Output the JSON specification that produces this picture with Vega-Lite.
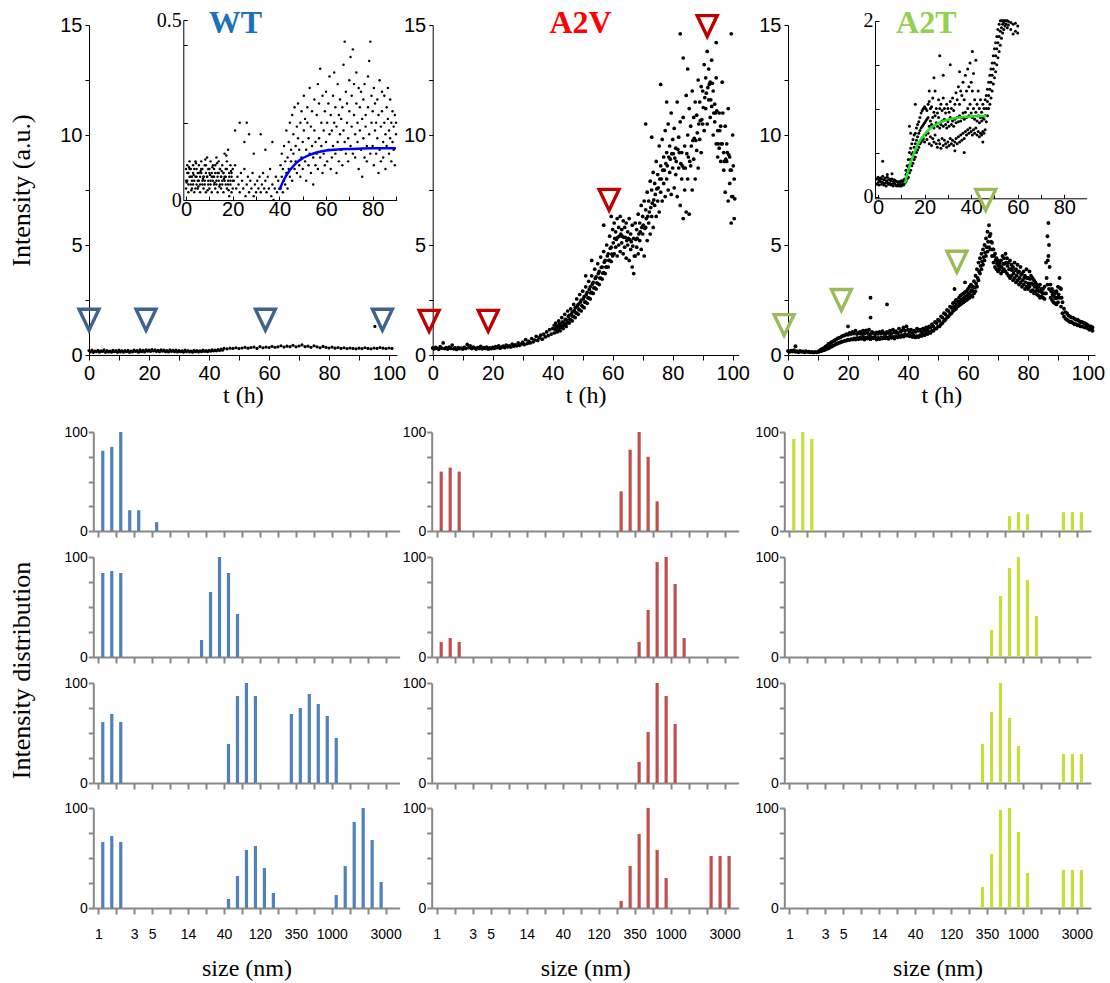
{
"$schema": "https://vega.github.io/schema/vega-lite/v6.json",
"width": 1110, "height": 983,
"autosize": {"type": "none"},
"padding": 0,
"background": "white",
"config": {
  "view": {"stroke": null},
  "axis": {"grid": false, "labelFlush": false, "labelOverlap": false, "labelBound": false, "domainColor": "black", "tickColor": "black", "labelColor": "black", "titleColor": "black", "titleFontWeight": "normal", "labelFont": "Liberation Sans", "titleFont": "Liberation Serif", "labelFontSize": 20, "titleFontSize": 24}
},
"datasets": {
"wt": [{"t":0,"y":0.2},{"t":1,"y":0.22},{"t":2,"y":0.18},{"t":3,"y":0.21},{"t":4,"y":0.19},{"t":5,"y":0.23},{"t":6,"y":0.2},{"t":7,"y":0.18},{"t":8,"y":0.21},{"t":9,"y":0.2},{"t":10,"y":0.22},{"t":11,"y":0.19},{"t":12,"y":0.2},{"t":13,"y":0.21},{"t":14,"y":0.18},{"t":15,"y":0.22},{"t":16,"y":0.2},{"t":17,"y":0.23},{"t":18,"y":0.21},{"t":19,"y":0.24},{"t":20,"y":0.22},{"t":21,"y":0.25},{"t":22,"y":0.23},{"t":23,"y":0.21},{"t":24,"y":0.24},{"t":25,"y":0.22},{"t":26,"y":0.2},{"t":27,"y":0.23},{"t":28,"y":0.21},{"t":29,"y":0.22},{"t":30,"y":0.2},{"t":31,"y":0.19},{"t":32,"y":0.22},{"t":33,"y":0.2},{"t":34,"y":0.18},{"t":35,"y":0.21},{"t":36,"y":0.2},{"t":37,"y":0.19},{"t":38,"y":0.22},{"t":39,"y":0.2},{"t":40,"y":0.21},{"t":41,"y":0.23},{"t":42,"y":0.22},{"t":43,"y":0.25},{"t":44,"y":0.27},{"t":45,"y":0.3},{"t":46,"y":0.28},{"t":47,"y":0.31},{"t":48,"y":0.3},{"t":49,"y":0.33},{"t":50,"y":0.29},{"t":51,"y":0.32},{"t":52,"y":0.35},{"t":53,"y":0.31},{"t":54,"y":0.34},{"t":55,"y":0.36},{"t":56,"y":0.3},{"t":57,"y":0.38},{"t":58,"y":0.33},{"t":59,"y":0.36},{"t":60,"y":0.34},{"t":61,"y":0.39},{"t":62,"y":0.35},{"t":63,"y":0.37},{"t":64,"y":0.42},{"t":65,"y":0.36},{"t":66,"y":0.4},{"t":67,"y":0.38},{"t":68,"y":0.44},{"t":69,"y":0.37},{"t":70,"y":0.41},{"t":71,"y":0.46},{"t":72,"y":0.38},{"t":73,"y":0.4},{"t":74,"y":0.35},{"t":75,"y":0.42},{"t":76,"y":0.37},{"t":77,"y":0.33},{"t":78,"y":0.39},{"t":79,"y":0.35},{"t":80,"y":0.32},{"t":81,"y":0.36},{"t":82,"y":0.31},{"t":83,"y":0.34},{"t":84,"y":0.3},{"t":85,"y":0.33},{"t":86,"y":0.29},{"t":87,"y":0.32},{"t":88,"y":0.3},{"t":89,"y":0.28},{"t":90,"y":0.31},{"t":91,"y":0.29},{"t":92,"y":0.33},{"t":93,"y":0.3},{"t":94,"y":0.28},{"t":95,"y":0.32},{"t":96,"y":0.3},{"t":97,"y":0.34},{"t":98,"y":0.31},{"t":99,"y":0.29},{"t":100,"y":0.32},{"t":101,"y":0.3},{"t":95.3,"y":1.3},
{"t":0.5,"y":0.14},{"t":1.5,"y":0.12},{"t":2.5,"y":0.15},{"t":3.5,"y":0.13},{"t":4.5,"y":0.16},{"t":5.5,"y":0.12},{"t":6.5,"y":0.14},{"t":7.5,"y":0.13},{"t":8.5,"y":0.15},{"t":9.5,"y":0.12},{"t":10.5,"y":0.14},{"t":11.5,"y":0.13},{"t":12.5,"y":0.15},{"t":13.5,"y":0.12},{"t":14.5,"y":0.14},{"t":15.5,"y":0.16},{"t":16.5,"y":0.13},{"t":17.5,"y":0.15},{"t":18.5,"y":0.14},{"t":19.5,"y":0.17},{"t":20.5,"y":0.16},{"t":21.5,"y":0.18},{"t":22.5,"y":0.16},{"t":23.5,"y":0.15},{"t":24.5,"y":0.17},{"t":25.5,"y":0.15},{"t":26.5,"y":0.14},{"t":27.5,"y":0.16},{"t":28.5,"y":0.15},{"t":29.5,"y":0.14},{"t":30.5,"y":0.15},{"t":31.5,"y":0.13},{"t":32.5,"y":0.15},{"t":33.5,"y":0.14},{"t":34.5,"y":0.13},{"t":35.5,"y":0.15},{"t":36.5,"y":0.14},{"t":37.5,"y":0.15},{"t":38.5,"y":0.16},{"t":39.5,"y":0.15},{"t":40.5,"y":0.17},{"t":41.5,"y":0.18},{"t":42.5,"y":0.19},{"t":43.5,"y":0.2},{"t":44.5,"y":0.22}],
"a2v": [{"t":0,"y":0.32},{"t":0.5,"y":0.28},{"t":1,"y":0.35},{"t":1.5,"y":0.3},{"t":2,"y":0.26},{"t":2.5,"y":0.38},{"t":3,"y":0.31},{"t":3.5,"y":0.55},{"t":4,"y":0.29},{"t":4.5,"y":0.33},{"t":5,"y":0.27},{"t":5.5,"y":0.36},{"t":6,"y":0.3},{"t":6.5,"y":0.45},{"t":7,"y":0.28},{"t":7.5,"y":0.32},{"t":8,"y":0.25},{"t":8.5,"y":0.34},{"t":9,"y":0.29},{"t":9.5,"y":0.31},{"t":10,"y":0.27},{"t":10.5,"y":0.35},{"t":11,"y":0.3},{"t":11.5,"y":0.48},{"t":12,"y":0.33},{"t":12.5,"y":0.42},{"t":13,"y":0.29},{"t":13.5,"y":0.36},{"t":14,"y":0.31},{"t":14.5,"y":0.27},{"t":15,"y":0.34},{"t":15.5,"y":0.3},{"t":16,"y":0.39},{"t":16.5,"y":0.28},{"t":17,"y":0.33},{"t":17.5,"y":0.3},{"t":18,"y":0.36},{"t":18.5,"y":0.27},{"t":19,"y":0.32},{"t":19.5,"y":0.29},{"t":20,"y":0.35},
{"t":20.5,"y":0.3},{"t":21,"y":0.38},{"t":21.5,"y":0.33},{"t":22,"y":0.42},{"t":22.5,"y":0.31},{"t":23,"y":0.36},{"t":23.5,"y":0.4},{"t":24,"y":0.33},{"t":24.5,"y":0.45},{"t":25,"y":0.37},{"t":25.5,"y":0.42},{"t":26,"y":0.36},{"t":26.5,"y":0.5},{"t":27,"y":0.4},{"t":27.5,"y":0.46},{"t":28,"y":0.42},{"t":28.5,"y":0.55},{"t":29,"y":0.44},{"t":29.5,"y":0.5},{"t":30,"y":0.58},{"t":30.5,"y":0.47},{"t":31,"y":0.7},{"t":31.5,"y":0.52},{"t":32,"y":0.62},{"t":32.5,"y":0.55},{"t":33,"y":0.75},{"t":33.5,"y":0.6},{"t":34,"y":0.68},{"t":34.5,"y":0.85},{"t":35,"y":0.66},{"t":35.5,"y":0.78},{"t":36,"y":0.9},{"t":36.5,"y":0.72},{"t":37,"y":0.95},{"t":37.5,"y":0.82},{"t":38,"y":1.05},{"t":38.5,"y":0.88},{"t":39,"y":1.15},{"t":39.5,"y":0.95},{"t":40,"y":1.2},
{"t":40.5,"y":1.0},{"t":40.5,"y":1.35},{"t":41,"y":1.15},{"t":41,"y":1.45},{"t":41.5,"y":1.05},{"t":41.5,"y":1.3},{"t":42,"y":1.25},{"t":42,"y":1.55},{"t":42.5,"y":1.1},{"t":42.5,"y":1.4},{"t":43,"y":1.3},{"t":43,"y":1.7},{"t":43.5,"y":1.2},{"t":43.5,"y":1.5},{"t":44,"y":1.4},{"t":44,"y":1.85},{"t":44.5,"y":1.3},{"t":44.5,"y":1.6},{"t":45,"y":1.5},{"t":45,"y":2.0},{"t":45.5,"y":1.45},{"t":45.5,"y":1.8},{"t":46,"y":1.6},{"t":46,"y":2.1},{"t":46.5,"y":1.55},{"t":46.5,"y":1.95},{"t":47,"y":1.75},{"t":47,"y":2.3},{"t":47.5,"y":1.7},{"t":47.5,"y":2.15},{"t":48,"y":1.9},{"t":48,"y":2.55},{"t":48.5,"y":1.85},{"t":48.5,"y":2.3},{"t":49,"y":2.05},{"t":49,"y":2.75},{"t":49.5,"y":2.0},{"t":49.5,"y":2.5},{"t":50,"y":2.2},{"t":50,"y":2.9},{"t":50.5,"y":2.15},{"t":50.5,"y":2.65},{"t":51,"y":2.4},{"t":51,"y":3.1},{"t":51.5,"y":2.35},{"t":51.5,"y":2.85},{"t":52,"y":2.6},{"t":52,"y":3.35},{"t":52.5,"y":2.55},{"t":52.5,"y":3.1},{"t":53,"y":2.85},{"t":53,"y":3.6},{"t":53.5,"y":2.8},{"t":53.5,"y":3.3},{"t":54,"y":3.05},{"t":54,"y":3.9},{"t":54.5,"y":3.0},{"t":54.5,"y":3.55},{"t":55,"y":3.25},{"t":55,"y":4.15},{"t":55.5,"y":3.2},{"t":55.5,"y":3.8},{"t":56,"y":3.5},{"t":56,"y":4.45},{"t":56.5,"y":3.45},{"t":56.5,"y":4.0},{"t":57,"y":3.75},{"t":57,"y":4.7},{"t":57.5,"y":3.7},{"t":57.5,"y":4.3},{"t":58,"y":4.0},{"t":58,"y":5.0},{"t":58.5,"y":4.0},{"t":58.5,"y":4.6},{"t":59,"y":4.3},{"t":59,"y":5.4},{"t":59.5,"y":4.25},{"t":59.5,"y":4.9},{"t":60,"y":4.5},{"t":60,"y":5.7},{"t":57,"y":5.9},{"t":59.5,"y":6.3},{"t":53,"y":4.3},{"t":51,"y":3.6},
{"t":60.5,"y":4.6},{"t":60.5,"y":6.0},{"t":61,"y":4.9},{"t":61,"y":5.6},{"t":61.5,"y":4.5},{"t":61.5,"y":6.2},{"t":62,"y":5.0},{"t":62,"y":5.8},{"t":62.5,"y":4.7},{"t":62.5,"y":6.3},{"t":63,"y":5.1},{"t":63,"y":5.7},{"t":63.5,"y":4.6},{"t":63.5,"y":6.1},{"t":64,"y":4.9},{"t":64,"y":5.8},{"t":64.5,"y":4.4},{"t":64.5,"y":6.0},{"t":65,"y":5.0},{"t":65,"y":5.6},{"t":65.5,"y":4.3},{"t":65.5,"y":6.2},{"t":66,"y":4.8},{"t":66,"y":5.5},{"t":66.5,"y":4.0},{"t":66.5,"y":5.9},{"t":67,"y":3.7},{"t":67,"y":5.3},{"t":67.5,"y":4.5},{"t":67.5,"y":6.0},{"t":68,"y":4.9},{"t":68,"y":5.7},{"t":68.5,"y":4.6},{"t":68.5,"y":6.4},{"t":69,"y":5.2},{"t":69,"y":6.0},{"t":69.5,"y":4.8},{"t":69.5,"y":6.8},{"t":70,"y":5.5},{"t":70,"y":6.3},{"t":70.5,"y":4.5},{"t":70.5,"y":7.0},{"t":71,"y":5.8},{"t":71,"y":6.6},{"t":71.5,"y":5.2},{"t":71.5,"y":7.4},{"t":72,"y":6.0},{"t":72,"y":7.0},{"t":72.5,"y":5.5},{"t":72.5,"y":7.9},{"t":73,"y":6.3},{"t":73,"y":7.5},{"t":73.5,"y":5.8},{"t":73.5,"y":8.3},{"t":74,"y":6.8},{"t":74,"y":7.8},{"t":74.5,"y":6.3},{"t":74.5,"y":8.8},{"t":75,"y":7.0},{"t":75,"y":8.2},{"t":75.5,"y":6.5},{"t":75.5,"y":9.5},{"t":76,"y":7.4},{"t":76,"y":8.6},{"t":76.5,"y":7.0},{"t":76.5,"y":9.8},{"t":77,"y":7.8},{"t":77,"y":9.0},{"t":77.5,"y":7.2},{"t":77.5,"y":10.2},{"t":78,"y":8.0},{"t":78,"y":9.2},{"t":78.5,"y":7.5},{"t":78.5,"y":10.5},{"t":79,"y":8.3},{"t":79,"y":9.5},{"t":79.5,"y":7.3},{"t":79.5,"y":11.0},{"t":80,"y":8.5},{"t":80,"y":9.8},{"t":80.5,"y":7.6},{"t":80.5,"y":10.3},{"t":81,"y":8.2},{"t":81,"y":9.4},{"t":81.5,"y":7.2},{"t":81.5,"y":11.5},{"t":82,"y":8.5},{"t":82,"y":9.9},{"t":82.5,"y":6.8},{"t":82.5,"y":10.6},{"t":83,"y":8.0},{"t":83,"y":9.2},{"t":83.5,"y":6.2},{"t":83.5,"y":10.8},{"t":84,"y":7.5},{"t":84,"y":9.5},{"t":84.5,"y":6.5},{"t":84.5,"y":11.8},{"t":85,"y":8.0},{"t":85,"y":10.0},{"t":85.5,"y":6.4},{"t":85.5,"y":11.2},{"t":86,"y":8.6},{"t":86,"y":10.4},{"t":86.5,"y":7.5},{"t":86.5,"y":12.0},{"t":87,"y":8.9},{"t":87,"y":10.8},{"t":87.5,"y":8.0},{"t":87.5,"y":11.5},{"t":88,"y":9.3},{"t":88,"y":10.9},{"t":88.5,"y":8.5},{"t":88.5,"y":12.5},{"t":89,"y":9.8},{"t":89,"y":11.5},{"t":89.5,"y":9.2},{"t":89.5,"y":12.2},{"t":90,"y":10.5},{"t":90,"y":12.0},{"t":90.5,"y":10.2},{"t":90.5,"y":13.2},{"t":91,"y":11.2},{"t":91,"y":12.6},{"t":91.5,"y":10.5},{"t":91.5,"y":13.8},{"t":92,"y":11.6},{"t":92,"y":13.0},{"t":92.5,"y":10.8},{"t":92.5,"y":12.4},{"t":93,"y":11.3},{"t":93,"y":13.4},{"t":93.5,"y":10.0},{"t":93.5,"y":12.0},{"t":94,"y":10.6},{"t":94,"y":11.4},{"t":94.5,"y":9.6},{"t":94.5,"y":12.6},{"t":95,"y":10.2},{"t":95,"y":9.0},{"t":95.5,"y":9.4},{"t":95.5,"y":11.0},{"t":96,"y":8.8},{"t":96,"y":10.4},{"t":96.5,"y":9.6},{"t":96.5,"y":12.4},{"t":97,"y":8.4},{"t":97,"y":9.2},{"t":97.5,"y":7.4},{"t":97.5,"y":10.4},{"t":98,"y":8.8},{"t":98,"y":9.6},{"t":98.5,"y":7.0},{"t":98.5,"y":11.2},{"t":99,"y":7.8},{"t":99,"y":9.0},{"t":99.5,"y":6.0},{"t":99.5,"y":8.4},{"t":100,"y":7.2},{"t":100,"y":10.0},{"t":100.5,"y":6.2},{"t":100.5,"y":8.0},
{"t":82.5,"y":14.6},{"t":83.5,"y":13.5},{"t":85,"y":13.0},{"t":94.5,"y":14.2},{"t":99.5,"y":14.6},{"t":76,"y":12.3},{"t":78,"y":11.5},{"t":73,"y":9.9},{"t":71,"y":10.5},
{"t":40.7,"y":1.18},{"t":41.2,"y":1.3},{"t":41.7,"y":1.17},{"t":42.2,"y":1.4},{"t":42.7,"y":1.25},{"t":43.2,"y":1.5},{"t":43.7,"y":1.35},{"t":44.2,"y":1.62},{"t":44.7,"y":1.45},{"t":45.2,"y":1.75},{"t":45.7,"y":1.62},{"t":46.2,"y":1.85},{"t":46.7,"y":1.75},{"t":47.2,"y":2.02},{"t":47.7,"y":1.92},{"t":48.2,"y":2.22},{"t":48.7,"y":2.08},{"t":49.2,"y":2.4},{"t":49.7,"y":2.25},{"t":50.2,"y":2.55},{"t":50.7,"y":2.4},{"t":51.2,"y":2.75},{"t":51.7,"y":2.6},{"t":52.2,"y":2.98},{"t":52.7,"y":2.82},{"t":53.2,"y":3.22},{"t":53.7,"y":3.05},{"t":54.2,"y":3.48},{"t":54.7,"y":3.28},{"t":55.2,"y":3.7},{"t":55.7,"y":3.5},{"t":56.2,"y":3.98},{"t":56.7,"y":3.72},{"t":57.2,"y":4.22},{"t":57.7,"y":4.0},{"t":58.2,"y":4.5},{"t":58.7,"y":4.3},{"t":59.2,"y":4.85},{"t":59.7,"y":4.58},{"t":60.2,"y":5.1},
{"t":60.7,"y":5.3},{"t":61.2,"y":5.25},{"t":61.7,"y":5.35},{"t":62.2,"y":5.4},{"t":62.7,"y":5.5},{"t":63.2,"y":5.4},{"t":63.7,"y":5.35},{"t":64.2,"y":5.35},{"t":64.7,"y":5.2},{"t":65.2,"y":5.3},{"t":65.7,"y":5.25},{"t":66.2,"y":5.15},{"t":66.7,"y":4.95},{"t":67.2,"y":4.5},{"t":67.7,"y":5.25},{"t":68.2,"y":5.3},{"t":68.7,"y":5.5},{"t":69.2,"y":5.6},{"t":69.7,"y":5.8},{"t":70.2,"y":5.9},{"t":70.7,"y":5.75},{"t":71.2,"y":6.2},{"t":71.7,"y":6.3},{"t":72.2,"y":6.5},{"t":72.7,"y":6.7},{"t":73.2,"y":6.9},{"t":73.7,"y":7.05},{"t":74.2,"y":7.3},{"t":74.7,"y":7.55},{"t":75.2,"y":7.6},{"t":75.7,"y":8.0},{"t":76.2,"y":8.0},{"t":76.7,"y":8.4},{"t":77.2,"y":8.4},{"t":77.7,"y":8.7},{"t":78.2,"y":8.6},{"t":78.7,"y":9.0},{"t":79.2,"y":8.9},{"t":79.7,"y":9.15},{"t":80.2,"y":9.15},{"t":80.7,"y":8.95},{"t":81.2,"y":8.8},{"t":81.7,"y":9.35},{"t":82.2,"y":9.2},{"t":82.7,"y":8.7},{"t":83.2,"y":8.6},{"t":83.7,"y":8.5},{"t":84.2,"y":8.5},{"t":84.7,"y":9.15},{"t":85.2,"y":9.0},{"t":85.7,"y":8.8},{"t":86.2,"y":9.5},{"t":86.7,"y":9.75},{"t":87.2,"y":9.85},{"t":87.7,"y":9.75},{"t":88.2,"y":10.1},{"t":88.7,"y":10.5},{"t":89.2,"y":10.65},{"t":89.7,"y":10.7},{"t":90.2,"y":11.25},{"t":90.7,"y":11.7},{"t":91.2,"y":11.9},{"t":91.7,"y":12.15},{"t":92.2,"y":12.3},{"t":92.7,"y":11.6},{"t":93.2,"y":12.35},{"t":93.7,"y":11.0},{"t":94.2,"y":11.0},{"t":94.7,"y":11.1},{"t":95.2,"y":9.6},{"t":95.7,"y":10.2},{"t":96.2,"y":9.6},{"t":96.7,"y":11.0},{"t":97.2,"y":8.8},{"t":97.7,"y":8.9},{"t":98.2,"y":9.2},{"t":98.7,"y":9.1},{"t":99.2,"y":8.4},{"t":99.7,"y":7.2},{"t":100.2,"y":8.6},{"t":100.7,"y":7.1}],
"a2t": [{"t":0,"y":0.18},{"t":0.5,"y":0.14},{"t":1,"y":0.2},{"t":1.5,"y":0.16},{"t":2,"y":0.22},{"t":2.5,"y":0.15},{"t":3,"y":0.17},{"t":3.5,"y":0.13},{"t":4,"y":0.19},{"t":4.5,"y":0.15},{"t":5,"y":0.16},{"t":5.5,"y":0.12},{"t":6,"y":0.17},{"t":6.5,"y":0.14},{"t":7,"y":0.15},{"t":7.5,"y":0.12},{"t":8,"y":0.14},{"t":8.5,"y":0.11},{"t":9,"y":0.14},{"t":9.5,"y":0.12},{"t":10,"y":0.15},{"t":2.5,"y":0.4},
{"t":10.5,"y":0.16},{"t":10.5,"y":0.2},{"t":11,"y":0.18},{"t":11,"y":0.25},{"t":11.5,"y":0.2},{"t":11.5,"y":0.28},{"t":12,"y":0.22},{"t":12,"y":0.32},{"t":12.5,"y":0.25},{"t":12.5,"y":0.38},{"t":13,"y":0.28},{"t":13,"y":0.42},{"t":13.5,"y":0.3},{"t":13.5,"y":0.5},{"t":14,"y":0.35},{"t":14,"y":0.52},{"t":14.5,"y":0.38},{"t":14.5,"y":0.58},{"t":15,"y":0.42},{"t":15,"y":0.62},{"t":15.5,"y":0.45},{"t":15.5,"y":0.66},{"t":16,"y":0.5},{"t":16,"y":0.7},{"t":16.5,"y":0.52},{"t":16.5,"y":0.75},{"t":17,"y":0.55},{"t":17,"y":0.78},{"t":17.5,"y":0.58},{"t":17.5,"y":0.8},{"t":18,"y":0.6},{"t":18,"y":0.85},{"t":18.5,"y":0.62},{"t":18.5,"y":0.88},{"t":19,"y":0.65},{"t":19,"y":0.9},{"t":19.5,"y":0.66},{"t":19.5,"y":0.95},{"t":20,"y":0.7},{"t":20,"y":0.92},{"t":20.5,"y":0.68},{"t":20.5,"y":1.0},{"t":21,"y":0.72},{"t":21,"y":0.95},{"t":21.5,"y":0.7},{"t":21.5,"y":1.05},{"t":22,"y":0.75},{"t":22,"y":0.98},{"t":22.5,"y":0.7},{"t":22.5,"y":1.1},{"t":23,"y":0.78},{"t":23,"y":0.95},{"t":23.5,"y":0.72},{"t":23.5,"y":1.0},{"t":24,"y":0.8},{"t":24,"y":1.05},{"t":24.5,"y":0.74},{"t":24.5,"y":0.96},{"t":25,"y":0.82},{"t":25,"y":1.1},{"t":25.5,"y":0.7},{"t":25.5,"y":0.98},{"t":26,"y":0.8},{"t":26,"y":1.12},{"t":26.5,"y":0.75},{"t":26.5,"y":1.0},{"t":27,"y":0.85},{"t":27,"y":1.15},{"t":27.5,"y":0.72},{"t":27.5,"y":0.95},{"t":28,"y":0.8},{"t":28,"y":1.05},{"t":28.5,"y":0.76},{"t":28.5,"y":1.0},{"t":29,"y":0.82},{"t":29,"y":0.95},{"t":29.5,"y":0.7},{"t":29.5,"y":1.02},{"t":30,"y":0.78},{"t":30,"y":0.96},{"t":30.5,"y":0.72},{"t":30.5,"y":1.05},{"t":31,"y":0.8},{"t":31,"y":0.98},{"t":31.5,"y":0.75},{"t":31.5,"y":1.08},{"t":32,"y":0.82},{"t":32,"y":1.0},{"t":32.5,"y":0.76},{"t":32.5,"y":0.95},{"t":33,"y":0.8},{"t":33,"y":1.05},{"t":33.5,"y":0.74},{"t":33.5,"y":1.0},{"t":34,"y":0.85},{"t":34,"y":1.1},{"t":34.5,"y":0.78},{"t":34.5,"y":0.98},{"t":35,"y":0.82},{"t":35,"y":1.15},{"t":35.5,"y":0.75},{"t":35.5,"y":1.02},{"t":36,"y":0.86},{"t":36,"y":1.08},{"t":36.5,"y":0.8},{"t":36.5,"y":1.0},{"t":37,"y":0.88},{"t":37,"y":1.2},{"t":37.5,"y":0.82},{"t":37.5,"y":1.05},{"t":38,"y":0.9},{"t":38,"y":1.12},{"t":38.5,"y":0.84},{"t":38.5,"y":1.25},{"t":39,"y":0.95},{"t":39,"y":1.1},{"t":39.5,"y":0.88},{"t":39.5,"y":1.3},{"t":40,"y":0.92},{"t":40,"y":1.15},{"t":40.5,"y":0.85},{"t":40.5,"y":1.05},{"t":41,"y":0.9},{"t":41,"y":1.15},{"t":41.5,"y":0.82},{"t":41.5,"y":1.0},{"t":42,"y":0.88},{"t":42,"y":1.1},{"t":42.5,"y":0.8},{"t":42.5,"y":1.05},{"t":43,"y":0.86},{"t":43,"y":1.2},{"t":43.5,"y":0.82},{"t":43.5,"y":1.1},{"t":44,"y":0.9},{"t":44,"y":1.15},{"t":44.5,"y":0.86},{"t":44.5,"y":1.05},{"t":45,"y":0.95},{"t":45,"y":1.2},{"t":45.5,"y":0.9},{"t":45.5,"y":1.1},{"t":46,"y":1.0},{"t":46,"y":1.25},{"t":46.5,"y":0.95},{"t":46.5,"y":1.15},{"t":47,"y":1.05},{"t":47,"y":1.3},{"t":47.5,"y":1.0},{"t":47.5,"y":1.25},{"t":48,"y":1.1},{"t":48,"y":1.4},{"t":48.5,"y":1.1},{"t":48.5,"y":1.3},{"t":49,"y":1.2},{"t":49,"y":1.5},{"t":49.5,"y":1.2},{"t":49.5,"y":1.45},{"t":50,"y":1.3},{"t":50,"y":1.6},{"t":50.5,"y":1.3},{"t":50.5,"y":1.55},{"t":51,"y":1.4},{"t":51,"y":1.75},{"t":51.5,"y":1.45},{"t":51.5,"y":1.7},{"t":52,"y":1.55},{"t":52,"y":1.9},{"t":52.5,"y":1.6},{"t":52.5,"y":1.85},{"t":53,"y":1.7},{"t":53,"y":2.05},{"t":53.5,"y":1.75},{"t":53.5,"y":2.0},{"t":54,"y":1.85},{"t":54,"y":2.2},{"t":54.5,"y":1.9},{"t":54.5,"y":2.15},{"t":55,"y":2.0},{"t":55,"y":2.35},{"t":55.5,"y":2.05},{"t":55.5,"y":2.4},{"t":56,"y":2.1},{"t":56,"y":2.5},{"t":56.5,"y":2.2},{"t":56.5,"y":2.45},{"t":57,"y":2.25},{"t":57,"y":2.6},{"t":57.5,"y":2.3},{"t":57.5,"y":2.7},{"t":58,"y":2.35},{"t":58,"y":2.75},{"t":58.5,"y":2.4},{"t":58.5,"y":2.8},{"t":59,"y":2.45},{"t":59,"y":2.85},{"t":59.5,"y":2.5},{"t":59.5,"y":2.9},{"t":60,"y":2.55},{"t":60,"y":3.0},{"t":60.5,"y":2.6},{"t":60.5,"y":3.1},{"t":61,"y":2.7},{"t":61,"y":3.2},{"t":61.5,"y":2.65},{"t":61.5,"y":3.1},{"t":62,"y":2.8},{"t":62,"y":3.35},{"t":62.5,"y":2.9},{"t":62.5,"y":3.6},{"t":63,"y":3.1},{"t":63,"y":3.9},{"t":63.5,"y":3.4},{"t":63.5,"y":4.2},{"t":64,"y":3.7},{"t":64,"y":4.4},{"t":64.5,"y":3.9},{"t":64.5,"y":4.6},{"t":65,"y":4.1},{"t":65,"y":4.8},{"t":65.5,"y":4.3},{"t":65.5,"y":5.0},{"t":66,"y":4.5},{"t":66,"y":5.3},{"t":66.5,"y":4.7},{"t":66.5,"y":5.6},{"t":67,"y":4.9},{"t":67,"y":5.9},{"t":67.5,"y":4.8},{"t":67.5,"y":5.5},{"t":68,"y":4.5},{"t":68,"y":5.1},{"t":68.5,"y":4.2},{"t":68.5,"y":4.8},{"t":69,"y":4.0},{"t":69,"y":4.6},{"t":69.5,"y":3.9},{"t":69.5,"y":4.4},{"t":70,"y":3.8},{"t":70,"y":4.3},{"t":70.5,"y":3.9},{"t":70.5,"y":4.2},{"t":71,"y":3.7},{"t":71,"y":4.3},{"t":71.5,"y":3.8},{"t":71.5,"y":4.5},{"t":72,"y":3.9},{"t":72,"y":4.4},{"t":72.5,"y":3.8},{"t":72.5,"y":4.6},{"t":73,"y":3.7},{"t":73,"y":4.4},{"t":73.5,"y":3.6},{"t":73.5,"y":4.2},{"t":74,"y":3.5},{"t":74,"y":4.3},{"t":74.5,"y":3.6},{"t":74.5,"y":4.1},{"t":75,"y":3.4},{"t":75,"y":4.0},{"t":75.5,"y":3.5},{"t":75.5,"y":4.2},{"t":76,"y":3.3},{"t":76,"y":3.9},{"t":76.5,"y":3.4},{"t":76.5,"y":4.1},{"t":77,"y":3.2},{"t":77,"y":3.8},{"t":77.5,"y":3.3},{"t":77.5,"y":4.0},{"t":78,"y":3.1},{"t":78,"y":3.7},{"t":78.5,"y":3.2},{"t":78.5,"y":3.8},{"t":79,"y":3.0},{"t":79,"y":3.6},{"t":79.5,"y":3.1},{"t":79.5,"y":3.9},{"t":80,"y":3.0},{"t":80,"y":3.5},{"t":80.5,"y":3.1},{"t":80.5,"y":3.8},{"t":81,"y":2.9},{"t":81,"y":3.6},{"t":81.5,"y":2.95},{"t":81.5,"y":3.5},{"t":82,"y":2.8},{"t":82,"y":3.4},{"t":82.5,"y":2.9},{"t":82.5,"y":3.3},{"t":83,"y":2.75},{"t":83,"y":3.2},{"t":83.5,"y":2.7},{"t":83.5,"y":3.1},{"t":84,"y":2.6},{"t":84,"y":3.2},{"t":84.5,"y":2.65},{"t":84.5,"y":3.0},{"t":85,"y":2.6},{"t":85,"y":3.0},{"t":85.5,"y":2.55},{"t":85.5,"y":3.1},{"t":86,"y":2.8},{"t":86,"y":4.2},{"t":86.5,"y":3.2},{"t":86.5,"y":5.4},{"t":86.8,"y":4.5},{"t":86.8,"y":6.0},{"t":87,"y":3.0},{"t":87,"y":5.0},{"t":87.5,"y":2.6},{"t":87.5,"y":3.2},{"t":88,"y":2.5},{"t":88,"y":3.0},{"t":88.5,"y":2.4},{"t":88.5,"y":2.9},{"t":89,"y":2.35},{"t":89,"y":2.8},{"t":89.5,"y":2.3},{"t":89.5,"y":2.9},{"t":90,"y":2.4},{"t":90,"y":3.1},{"t":90.5,"y":2.6},{"t":90.5,"y":3.5},{"t":91,"y":2.2},{"t":91,"y":3.0},{"t":91.5,"y":1.9},{"t":91.5,"y":2.4},{"t":92,"y":1.75},{"t":92,"y":2.1},{"t":92.5,"y":1.65},{"t":92.5,"y":1.95},{"t":93,"y":1.6},{"t":93,"y":1.9},{"t":93.5,"y":1.55},{"t":93.5,"y":1.8},{"t":94,"y":1.5},{"t":94,"y":1.75},{"t":94.5,"y":1.5},{"t":94.5,"y":1.7},{"t":95,"y":1.45},{"t":95,"y":1.7},{"t":95.5,"y":1.4},{"t":95.5,"y":1.65},{"t":96,"y":1.4},{"t":96,"y":1.6},{"t":96.5,"y":1.35},{"t":96.5,"y":1.6},{"t":97,"y":1.35},{"t":97,"y":1.55},{"t":97.5,"y":1.3},{"t":97.5,"y":1.5},{"t":98,"y":1.3},{"t":98,"y":1.5},{"t":98.5,"y":1.28},{"t":98.5,"y":1.45},{"t":99,"y":1.25},{"t":99,"y":1.45},{"t":99.5,"y":1.25},{"t":99.5,"y":1.4},{"t":100,"y":1.2},{"t":100,"y":1.35},{"t":100.5,"y":1.15},{"t":100.5,"y":1.3},{"t":101,"y":1.2},{"t":101,"y":1.3},{"t":101.5,"y":1.1},{"t":101.5,"y":1.25},
{"t":20,"y":1.3},{"t":27.5,"y":2.6},{"t":33,"y":2.3},{"t":27.5,"y":1.7},{"t":55.5,"y":3.0},{"t":59,"y":3.3},
{"t":55.2,"y":2.18},{"t":55.7,"y":2.2},{"t":56.2,"y":2.3},{"t":56.7,"y":2.33},{"t":57.2,"y":2.42},{"t":57.7,"y":2.5},{"t":58.2,"y":2.55},{"t":58.7,"y":2.6},{"t":59.2,"y":2.65},{"t":59.7,"y":2.7},{"t":60.2,"y":2.78},{"t":60.7,"y":2.85},{"t":61.2,"y":2.95},{"t":61.7,"y":2.9},{"t":62.2,"y":3.08},{"t":62.7,"y":3.25},{"t":63.2,"y":3.5},{"t":63.7,"y":3.8},{"t":64.2,"y":4.05},{"t":64.7,"y":4.25},{"t":65.2,"y":4.45},{"t":65.7,"y":4.65},{"t":66.2,"y":4.9},{"t":66.7,"y":5.15},{"t":67.2,"y":5.4},{"t":67.7,"y":5.15},{"t":68.2,"y":4.8},{"t":68.7,"y":4.5},{"t":69.2,"y":4.3},{"t":69.7,"y":4.15},{"t":70.2,"y":4.05},{"t":70.7,"y":4.05},{"t":71.2,"y":4.0},{"t":71.7,"y":4.15},{"t":72.2,"y":4.15},{"t":72.7,"y":4.2},{"t":73.2,"y":4.05},{"t":73.7,"y":3.9},{"t":74.2,"y":3.9},{"t":74.7,"y":3.85},{"t":75.2,"y":3.7},{"t":75.7,"y":3.85},{"t":76.2,"y":3.6},{"t":76.7,"y":3.75},{"t":77.2,"y":3.5},{"t":77.7,"y":3.65},{"t":78.2,"y":3.4},{"t":78.7,"y":3.5},{"t":79.2,"y":3.3},{"t":79.7,"y":3.5},{"t":80.2,"y":3.25},{"t":80.7,"y":3.45},{"t":81.2,"y":3.25},{"t":81.7,"y":3.2},{"t":82.2,"y":3.1},{"t":82.7,"y":3.1},{"t":83.2,"y":3.0},{"t":83.7,"y":2.9},{"t":84.2,"y":2.9},{"t":84.7,"y":2.82},{"t":85.2,"y":2.8},{"t":85.7,"y":2.8},{"t":86.2,"y":3.5},{"t":86.6,"y":4.3},{"t":87.2,"y":4.0},{"t":87.7,"y":2.9},{"t":88.2,"y":2.75},{"t":88.7,"y":2.65},{"t":89.2,"y":2.58},{"t":89.7,"y":2.6},{"t":90.2,"y":2.75},{"t":90.7,"y":3.05},{"t":91.2,"y":2.6}],
"wtIn": [{"t":0,"y":0.03},{"t":0,"y":0.08},{"t":0,"y":0.05},{"t":0.5,"y":0.05},{"t":0.5,"y":0.09},{"t":0.5,"y":0.07},{"t":1,"y":0.02},{"t":1,"y":0.07},{"t":1,"y":0.04},{"t":1.5,"y":0.06},{"t":1.5,"y":0.1},{"t":1.5,"y":0.08},{"t":2,"y":0.04},{"t":2,"y":0.08},{"t":2,"y":0.06},{"t":2.5,"y":0.03},{"t":2.5,"y":0.06},{"t":2.5,"y":0.05},{"t":3,"y":0.07},{"t":3,"y":0.09},{"t":3,"y":0.04},{"t":3.5,"y":0.02},{"t":3.5,"y":0.05},{"t":3.5,"y":0.08},{"t":4,"y":0.06},{"t":4,"y":0.1},{"t":4,"y":0.03},{"t":4.5,"y":0.04},{"t":4.5,"y":0.08},{"t":4.5,"y":0.06},{"t":5,"y":0.03},{"t":5,"y":0.07},{"t":5,"y":0.05},{"t":5.5,"y":0.05},{"t":5.5,"y":0.09},{"t":5.5,"y":0.07},{"t":6,"y":0.02},{"t":6,"y":0.06},{"t":6,"y":0.04},{"t":6.5,"y":0.07},{"t":6.5,"y":0.1},{"t":6.5,"y":0.08},{"t":7,"y":0.04},{"t":7,"y":0.08},{"t":7,"y":0.05},{"t":7.5,"y":0.03},{"t":7.5,"y":0.06},{"t":7.5,"y":0.06},{"t":8,"y":0.05},{"t":8,"y":0.09},{"t":8,"y":0.04},{"t":8.5,"y":0.02},{"t":8.5,"y":0.07},{"t":8.5,"y":0.09},{"t":9,"y":0.06},{"t":9,"y":0.11},{"t":9,"y":0.06},{"t":9.5,"y":0.04},{"t":9.5,"y":0.08},{"t":9.5,"y":0.05},{"t":10,"y":0.03},{"t":10,"y":0.07},{"t":10,"y":0.08},{"t":10.5,"y":0.05},{"t":10.5,"y":0.1},{"t":10.5,"y":0.04},{"t":11,"y":0.02},{"t":11,"y":0.06},{"t":11,"y":0.07},{"t":11.5,"y":0.06},{"t":11.5,"y":0.09},{"t":11.5,"y":0.05},{"t":12,"y":0.04},{"t":12,"y":0.08},{"t":12,"y":0.06},{"t":12.5,"y":0.03},{"t":12.5,"y":0.07},{"t":12.5,"y":0.09},{"t":13,"y":0.05},{"t":13,"y":0.11},{"t":13,"y":0.04},{"t":13.5,"y":0.02},{"t":13.5,"y":0.06},{"t":13.5,"y":0.07},{"t":14,"y":0.07},{"t":14,"y":0.1},{"t":14,"y":0.05},{"t":14.5,"y":0.04},{"t":14.5,"y":0.08},{"t":14.5,"y":0.08},{"t":15,"y":0.03},{"t":15,"y":0.06},{"t":15,"y":0.06},{"t":15.5,"y":0.05},{"t":15.5,"y":0.09},{"t":15.5,"y":0.04},{"t":16,"y":0.02},{"t":16,"y":0.07},{"t":16,"y":0.07},{"t":16.5,"y":0.06},{"t":16.5,"y":0.12},{"t":16.5,"y":0.05},{"t":17,"y":0.04},{"t":17,"y":0.08},{"t":17,"y":0.06},{"t":17.5,"y":0.03},{"t":17.5,"y":0.1},{"t":17.5,"y":0.08},{"t":18,"y":0.05},{"t":18,"y":0.13},{"t":18,"y":0.04},{"t":18.5,"y":0.01},{"t":18.5,"y":0.07},{"t":18.5,"y":0.06},{"t":19,"y":0.04},{"t":19,"y":0.09},{"t":19,"y":0.05},{"t":19.5,"y":0.02},{"t":19.5,"y":0.06},{"t":19.5,"y":0.07},{"t":20,"y":0.03},{"t":20,"y":0.08},{"t":20,"y":0.05},
{"t":0.25,"y":0.045},{"t":1.25,"y":0.085},{"t":2.25,"y":0.025},{"t":3.25,"y":0.065},{"t":4.25,"y":0.095},{"t":5.25,"y":0.035},{"t":6.25,"y":0.075},{"t":7.25,"y":0.055},{"t":8.25,"y":0.105},{"t":9.25,"y":0.025},{"t":10.25,"y":0.065},{"t":11.25,"y":0.085},{"t":12.25,"y":0.045},{"t":13.25,"y":0.095},{"t":14.25,"y":0.035},{"t":15.25,"y":0.075},{"t":16.25,"y":0.055},{"t":17.25,"y":0.115},{"t":18.25,"y":0.025},{"t":19.25,"y":0.075},
{"t":20.5,"y":0.05},{"t":21,"y":0.09},{"t":21.5,"y":0.03},{"t":22,"y":0.06},{"t":22.5,"y":0.04},{"t":23,"y":0.02},{"t":23.5,"y":0.07},{"t":24,"y":0.05},{"t":24.5,"y":0.03},{"t":25,"y":0.08},{"t":25.5,"y":0.01},{"t":26,"y":0.04},{"t":26.5,"y":0.06},{"t":27,"y":0.02},{"t":27.5,"y":0.05},{"t":28,"y":0.03},{"t":28.5,"y":0.07},{"t":29,"y":0.01},{"t":29.5,"y":0.04},{"t":30,"y":0.02},{"t":30.5,"y":0.05},{"t":31,"y":0.03},{"t":31.5,"y":0.06},{"t":32,"y":0.02},{"t":32.5,"y":0.04},{"t":33,"y":0.07},{"t":33.5,"y":0.03},{"t":34,"y":0.05},{"t":34.5,"y":0.02},{"t":35,"y":0.06},{"t":35.5,"y":0.03},{"t":36,"y":0.08},{"t":36.5,"y":0.01},{"t":37,"y":0.04},{"t":37.5,"y":0.0},{"t":38,"y":0.03},{"t":38.5,"y":0.06},{"t":39,"y":0.02},{"t":39.5,"y":0.05},{"t":40,"y":0.03},
{"t":21,"y":0.18},{"t":25,"y":0.15},{"t":27,"y":0.17},{"t":23,"y":0.2},{"t":26,"y":0.2},{"t":32,"y":0.17},{"t":34,"y":0.13},{"t":29,"y":0.12},{"t":37,"y":0.15},
{"t":40.5,"y":0.03},{"t":40.5,"y":0.09},{"t":41,"y":0.06},{"t":41,"y":0.12},{"t":41.5,"y":0.02},{"t":41.5,"y":0.08},{"t":42,"y":0.05},{"t":42,"y":0.14},{"t":42.5,"y":0.04},{"t":42.5,"y":0.1},{"t":43,"y":0.07},{"t":43,"y":0.18},{"t":43.5,"y":0.03},{"t":43.5,"y":0.11},{"t":44,"y":0.08},{"t":44,"y":0.15},{"t":44.5,"y":0.06},{"t":44.5,"y":0.2},{"t":45,"y":0.1},{"t":45,"y":0.13},{"t":45.5,"y":0.05},{"t":45.5,"y":0.22},{"t":46,"y":0.12},{"t":46,"y":0.17},{"t":46.5,"y":0.08},{"t":46.5,"y":0.24},{"t":47,"y":0.14},{"t":47,"y":0.1},{"t":47.5,"y":0.07},{"t":47.5,"y":0.19},{"t":48,"y":0.16},{"t":48,"y":0.25},{"t":48.5,"y":0.09},{"t":48.5,"y":0.13},{"t":49,"y":0.2},{"t":49,"y":0.06},{"t":49.5,"y":0.11},{"t":49.5,"y":0.23},{"t":50,"y":0.15},{"t":50,"y":0.08},{"t":50.5,"y":0.18},{"t":50.5,"y":0.27},{"t":51,"y":0.1},{"t":51,"y":0.21},{"t":51.5,"y":0.13},{"t":51.5,"y":0.05},{"t":52,"y":0.2},{"t":52,"y":0.24},{"t":52.5,"y":0.09},{"t":52.5,"y":0.16},{"t":53,"y":0.29},{"t":53,"y":0.12},{"t":53.5,"y":0.07},{"t":53.5,"y":0.19},{"t":54,"y":0.14},{"t":54,"y":0.23},{"t":54.5,"y":0.11},{"t":54.5,"y":0.04},{"t":55,"y":0.18},{"t":55,"y":0.26},{"t":55.5,"y":0.09},{"t":55.5,"y":0.15},{"t":56,"y":0.22},{"t":56,"y":0.12},{"t":56.5,"y":0.3},{"t":56.5,"y":0.08},{"t":57,"y":0.16},{"t":57,"y":0.25},{"t":57.5,"y":0.34},{"t":57.5,"y":0.11},{"t":58,"y":0.2},{"t":58,"y":0.14},{"t":58.5,"y":0.07},{"t":58.5,"y":0.27},{"t":59,"y":0.18},{"t":59,"y":0.12},{"t":59.5,"y":0.23},{"t":59.5,"y":0.09},{"t":60,"y":0.15},{"t":60,"y":0.28},{"t":60.5,"y":0.1},{"t":60.5,"y":0.2},{"t":61,"y":0.25},{"t":61,"y":0.13},{"t":61.5,"y":0.32},{"t":61.5,"y":0.17},{"t":62,"y":0.08},{"t":62,"y":0.22},{"t":62.5,"y":0.18},{"t":62.5,"y":0.11},{"t":63,"y":0.27},{"t":63,"y":0.14},{"t":63.5,"y":0.33},{"t":63.5,"y":0.2},{"t":64,"y":0.12},{"t":64,"y":0.24},{"t":64.5,"y":0.19},{"t":64.5,"y":0.07},{"t":65,"y":0.3},{"t":65,"y":0.15},{"t":65.5,"y":0.22},{"t":65.5,"y":0.1},{"t":66,"y":0.17},{"t":66,"y":0.26},{"t":66.5,"y":0.13},{"t":66.5,"y":0.21},{"t":67,"y":0.24},{"t":67,"y":0.09},{"t":67.5,"y":0.35},{"t":67.5,"y":0.18},{"t":68,"y":0.41},{"t":68,"y":0.15},{"t":68.5,"y":0.12},{"t":68.5,"y":0.28},{"t":69,"y":0.2},{"t":69,"y":0.25},{"t":69.5,"y":0.16},{"t":69.5,"y":0.1},{"t":70,"y":0.23},{"t":70,"y":0.31},{"t":70.5,"y":0.37},{"t":70.5,"y":0.14},{"t":71,"y":0.19},{"t":71,"y":0.27},{"t":71.5,"y":0.39},{"t":71.5,"y":0.12},{"t":72,"y":0.3},{"t":72,"y":0.22},{"t":72.5,"y":0.11},{"t":72.5,"y":0.17},{"t":73,"y":0.25},{"t":73,"y":0.33},{"t":73.5,"y":0.15},{"t":73.5,"y":0.2},{"t":74,"y":0.08},{"t":74,"y":0.29},{"t":74.5,"y":0.18},{"t":74.5,"y":0.24},{"t":75,"y":0.28},{"t":75,"y":0.13},{"t":75.5,"y":0.21},{"t":75.5,"y":0.06},{"t":76,"y":0.16},{"t":76,"y":0.26},{"t":76.5,"y":0.3},{"t":76.5,"y":0.11},{"t":77,"y":0.19},{"t":77,"y":0.22},{"t":77.5,"y":0.1},{"t":77.5,"y":0.14},{"t":78,"y":0.24},{"t":78,"y":0.32},{"t":78.5,"y":0.36},{"t":78.5,"y":0.17},{"t":79,"y":0.41},{"t":79,"y":0.12},{"t":79.5,"y":0.2},{"t":79.5,"y":0.27},{"t":80,"y":0.14},{"t":80,"y":0.23},{"t":80.5,"y":0.29},{"t":80.5,"y":0.09},{"t":81,"y":0.18},{"t":81,"y":0.25},{"t":81.5,"y":0.12},{"t":81.5,"y":0.2},{"t":82,"y":0.26},{"t":82,"y":0.16},{"t":82.5,"y":0.07},{"t":82.5,"y":0.22},{"t":83,"y":0.31},{"t":83,"y":0.13},{"t":83.5,"y":0.19},{"t":83.5,"y":0.1},{"t":84,"y":0.23},{"t":84,"y":0.28},{"t":84.5,"y":0.15},{"t":84.5,"y":0.11},{"t":85,"y":0.27},{"t":85,"y":0.2},{"t":85.5,"y":0.17},{"t":85.5,"y":0.08},{"t":86,"y":0.24},{"t":86,"y":0.14},{"t":86.5,"y":0.21},{"t":86.5,"y":0.29},{"t":87,"y":0.12},{"t":87,"y":0.18},{"t":87.5,"y":0.26},{"t":87.5,"y":0.16},{"t":88,"y":0.2},{"t":88,"y":0.1},{"t":88.5,"y":0.15},{"t":88.5,"y":0.23},{"t":89,"y":0.19},{"t":89,"y":0.13},{"t":89.5,"y":0.22},{"t":89.5,"y":0.09},{"t":90,"y":0.17},{"t":90,"y":0.2}],
"a2tIn": [{"t":-0.5,"y":0.14},{"t":-0.5,"y":0.2},{"t":0,"y":0.16},{"t":0,"y":0.22},{"t":0.5,"y":0.13},{"t":0.5,"y":0.19},{"t":1,"y":0.17},{"t":1,"y":0.21},{"t":1.5,"y":0.14},{"t":1.5,"y":0.2},{"t":2,"y":0.16},{"t":2,"y":0.23},{"t":2.5,"y":0.13},{"t":2.5,"y":0.19},{"t":3,"y":0.15},{"t":3,"y":0.21},{"t":3.5,"y":0.12},{"t":3.5,"y":0.18},{"t":4,"y":0.16},{"t":4,"y":0.22},{"t":4.5,"y":0.14},{"t":4.5,"y":0.19},{"t":5,"y":0.15},{"t":5,"y":0.2},{"t":5.5,"y":0.13},{"t":5.5,"y":0.18},{"t":6,"y":0.14},{"t":6,"y":0.2},{"t":6.5,"y":0.12},{"t":6.5,"y":0.17},{"t":7,"y":0.15},{"t":7,"y":0.19},{"t":7.5,"y":0.13},{"t":7.5,"y":0.18},{"t":8,"y":0.12},{"t":8,"y":0.17},{"t":8.5,"y":0.13},{"t":8.5,"y":0.16},{"t":9,"y":0.12},{"t":9,"y":0.17},{"t":9.5,"y":0.13},{"t":9.5,"y":0.16},{"t":10,"y":0.12},{"t":10,"y":0.18},{"t":10.5,"y":0.14},{"t":10.5,"y":0.17},{"t":11,"y":0.13},{"t":11,"y":0.19},{"t":11.5,"y":0.15},{"t":11.5,"y":0.2},{"t":2,"y":0.4},{"t":4,"y":0.25},{"t":6,"y":0.26},
{"t":12,"y":0.17},{"t":12,"y":0.25},{"t":12,"y":0.3},{"t":12.5,"y":0.2},{"t":12.5,"y":0.28},{"t":12.5,"y":0.35},{"t":13,"y":0.22},{"t":13,"y":0.34},{"t":13,"y":0.42},{"t":13.5,"y":0.27},{"t":13.5,"y":0.36},{"t":13.5,"y":0.5},{"t":14,"y":0.3},{"t":14,"y":0.42},{"t":14,"y":0.55},{"t":14.5,"y":0.35},{"t":14.5,"y":0.48},{"t":14.5,"y":0.6},{"t":15,"y":0.38},{"t":15,"y":0.5},{"t":15,"y":0.65},{"t":15.5,"y":0.42},{"t":15.5,"y":0.56},{"t":15.5,"y":0.7},{"t":16,"y":0.45},{"t":16,"y":0.6},{"t":16,"y":0.72},{"t":16.5,"y":0.5},{"t":16.5,"y":0.64},{"t":16.5,"y":0.78},{"t":17,"y":0.53},{"t":17,"y":0.68},{"t":17,"y":0.82},{"t":17.5,"y":0.56},{"t":17.5,"y":0.72},{"t":17.5,"y":0.85},{"t":18,"y":0.6},{"t":18,"y":0.75},{"t":18,"y":0.9},{"t":18.5,"y":0.62},{"t":18.5,"y":0.78},{"t":18.5,"y":0.95},{"t":19,"y":0.64},{"t":19,"y":0.8},{"t":19,"y":0.98},{"t":19.5,"y":0.66},{"t":19.5,"y":0.82},{"t":19.5,"y":1.0},{"t":20,"y":0.62},{"t":20,"y":0.84},{"t":20,"y":1.02},{"t":13.5,"y":0.8},{"t":14,"y":0.72},{"t":16,"y":1.05},
{"t":20.5,"y":0.7},{"t":20.5,"y":0.86},{"t":20.5,"y":1.0},{"t":21,"y":0.65},{"t":21,"y":0.88},{"t":21,"y":0.98},{"t":21.5,"y":0.72},{"t":21.5,"y":0.9},{"t":21.5,"y":1.05},{"t":22,"y":0.6},{"t":22,"y":0.8},{"t":22,"y":1.08},{"t":22.5,"y":0.68},{"t":22.5,"y":0.86},{"t":22.5,"y":1.0},{"t":23,"y":0.58},{"t":23,"y":0.82},{"t":23,"y":1.02},{"t":23.5,"y":0.66},{"t":23.5,"y":0.9},{"t":23.5,"y":1.12},{"t":24,"y":0.62},{"t":24,"y":0.78},{"t":24,"y":0.96},{"t":24.5,"y":0.7},{"t":24.5,"y":0.92},{"t":24.5,"y":1.2},{"t":25,"y":0.6},{"t":25,"y":0.84},{"t":25,"y":1.0},{"t":25.5,"y":0.56},{"t":25.5,"y":0.8},{"t":25.5,"y":0.95},{"t":26,"y":0.64},{"t":26,"y":0.9},{"t":26,"y":1.1},{"t":26.5,"y":0.6},{"t":26.5,"y":0.78},{"t":26.5,"y":1.0},{"t":27,"y":0.55},{"t":27,"y":0.82},{"t":27,"y":1.05},{"t":27.5,"y":0.66},{"t":27.5,"y":0.86},{"t":27.5,"y":0.98},{"t":28,"y":0.58},{"t":28,"y":0.8},{"t":28,"y":1.12},{"t":28.5,"y":0.64},{"t":28.5,"y":0.88},{"t":28.5,"y":1.0},{"t":29,"y":0.6},{"t":29,"y":0.82},{"t":29,"y":0.95},{"t":29.5,"y":0.56},{"t":29.5,"y":0.78},{"t":29.5,"y":1.05},{"t":30,"y":0.62},{"t":30,"y":0.85},{"t":30,"y":1.0},{"t":30.5,"y":0.58},{"t":30.5,"y":0.8},{"t":30.5,"y":0.96},{"t":31,"y":0.66},{"t":31,"y":0.9},{"t":31,"y":1.08},{"t":31.5,"y":0.6},{"t":31.5,"y":0.82},{"t":31.5,"y":1.0},{"t":32,"y":0.64},{"t":32,"y":0.86},{"t":32,"y":1.12},{"t":32.5,"y":0.58},{"t":32.5,"y":0.8},{"t":32.5,"y":0.98},{"t":33,"y":0.62},{"t":33,"y":0.88},{"t":33,"y":1.05},{"t":33.5,"y":0.66},{"t":33.5,"y":0.84},{"t":33.5,"y":1.18},{"t":34,"y":0.6},{"t":34,"y":0.9},{"t":34,"y":1.1},{"t":34.5,"y":0.68},{"t":34.5,"y":0.85},{"t":34.5,"y":1.25},{"t":35,"y":0.62},{"t":35,"y":0.92},{"t":35,"y":1.05},{"t":35.5,"y":0.7},{"t":35.5,"y":0.86},{"t":35.5,"y":1.2},{"t":36,"y":0.64},{"t":36,"y":0.9},{"t":36,"y":1.15},{"t":36.5,"y":0.72},{"t":36.5,"y":0.95},{"t":36.5,"y":1.3},{"t":37,"y":0.66},{"t":37,"y":0.88},{"t":37,"y":1.1},{"t":37.5,"y":0.74},{"t":37.5,"y":0.96},{"t":37.5,"y":1.38},{"t":38,"y":0.7},{"t":38,"y":0.9},{"t":38,"y":1.2},{"t":38.5,"y":0.76},{"t":38.5,"y":1.0},{"t":38.5,"y":1.45},{"t":39,"y":0.72},{"t":39,"y":0.92},{"t":39,"y":1.25},{"t":39.5,"y":0.78},{"t":39.5,"y":1.05},{"t":39.5,"y":1.52},{"t":40,"y":0.74},{"t":40,"y":0.95},{"t":40,"y":1.3},{"t":40.5,"y":0.7},{"t":40.5,"y":0.9},{"t":40.5,"y":1.2},{"t":41,"y":0.76},{"t":41,"y":1.0},{"t":41,"y":1.4},{"t":41.5,"y":0.72},{"t":41.5,"y":0.88},{"t":41.5,"y":1.1},{"t":42,"y":0.78},{"t":42,"y":0.96},{"t":42,"y":1.55},{"t":42.5,"y":0.7},{"t":42.5,"y":0.86},{"t":42.5,"y":1.05},{"t":43,"y":0.74},{"t":43,"y":0.92},{"t":43,"y":1.2},{"t":43.5,"y":0.68},{"t":43.5,"y":0.84},{"t":43.5,"y":1.0},{"t":44,"y":0.72},{"t":44,"y":0.9},{"t":44,"y":1.1},{"t":44.5,"y":0.7},{"t":44.5,"y":0.86},{"t":44.5,"y":0.96},{"t":45,"y":0.74},{"t":45,"y":0.9},{"t":45,"y":1.05},{"t":45.5,"y":0.72},{"t":45.5,"y":0.88},{"t":45.5,"y":1.0},{"t":46,"y":0.76},{"t":46,"y":0.92},{"t":46,"y":1.1},
{"t":26.5,"y":1.6},{"t":24,"y":1.35},{"t":28,"y":1.38},{"t":31,"y":1.5},{"t":35,"y":1.42},{"t":40.5,"y":1.65},{"t":22,"y":1.2},{"t":37,"y":0.5},{"t":45,"y":0.62},{"t":33,"y":0.52},
{"t":46.5,"y":0.85},{"t":46.5,"y":1.0},{"t":46.5,"y":1.15},{"t":47,"y":0.92},{"t":47,"y":1.08},{"t":47,"y":1.22},{"t":47.5,"y":1.0},{"t":47.5,"y":1.15},{"t":47.5,"y":1.3},{"t":48,"y":1.05},{"t":48,"y":1.22},{"t":48,"y":1.38},{"t":48.5,"y":1.12},{"t":48.5,"y":1.3},{"t":48.5,"y":1.45},{"t":49,"y":1.2},{"t":49,"y":1.38},{"t":49,"y":1.52},{"t":49.5,"y":1.28},{"t":49.5,"y":1.45},{"t":49.5,"y":1.6},{"t":50,"y":1.35},{"t":50,"y":1.52},{"t":50,"y":1.68},{"t":50.5,"y":1.42},{"t":50.5,"y":1.6},{"t":50.5,"y":1.75},{"t":51,"y":1.5},{"t":51,"y":1.68},{"t":51,"y":1.82},{"t":51.5,"y":1.58},{"t":51.5,"y":1.75},{"t":51.5,"y":1.9},{"t":52,"y":1.65},{"t":52,"y":1.82},{"t":52,"y":1.96},{"t":52.5,"y":1.72},{"t":52.5,"y":1.88},{"t":52.5,"y":2.0},{"t":53,"y":1.8},{"t":53,"y":1.92},{"t":53,"y":2.0},{"t":53.5,"y":1.86},{"t":53.5,"y":1.96},{"t":53.5,"y":2.0},{"t":54,"y":1.9},{"t":54,"y":1.98},{"t":54,"y":2.0},{"t":54.5,"y":1.94},{"t":54.5,"y":2.0},{"t":55,"y":1.96},{"t":55,"y":2.0},{"t":55.5,"y":1.92},{"t":55.5,"y":2.0},{"t":56,"y":1.95},{"t":56,"y":1.99},{"t":57,"y":1.9},{"t":57,"y":1.98},{"t":58,"y":1.85},{"t":58,"y":1.96},{"t":59,"y":1.88},{"t":59,"y":1.97},{"t":60,"y":1.86},{"t":60,"y":1.94}],
"fitWT": [{"t":40,"y":0.026},{"t":42,"y":0.053},{"t":44,"y":0.073},{"t":46,"y":0.088},{"t":48,"y":0.1},{"t":50,"y":0.108},{"t":53,"y":0.117},{"t":56,"y":0.123},{"t":60,"y":0.128},{"t":65,"y":0.131},{"t":70,"y":0.132},{"t":80,"y":0.134},{"t":90,"y":0.134}],
"fitA2T": [{"t":11.6,"y":0.15},{"t":13,"y":0.3},{"t":14,"y":0.386},{"t":15,"y":0.463},{"t":16,"y":0.529},{"t":17,"y":0.585},{"t":18,"y":0.632},{"t":20,"y":0.708},{"t":22,"y":0.764},{"t":24,"y":0.806},{"t":27,"y":0.848},{"t":30,"y":0.875},{"t":34,"y":0.895},{"t":38,"y":0.907},{"t":42,"y":0.913},{"t":46.6,"y":0.916}],
"tri": [{"v":"WT","t":0,"y":1.6},{"v":"WT","t":19,"y":1.6},{"v":"WT","t":58.8,"y":1.6},{"v":"WT","t":97.8,"y":1.6},{"v":"A2V","t":-1.2,"y":1.55},{"v":"A2V","t":18.5,"y":1.55},{"v":"A2V","t":58.8,"y":7.05},{"v":"A2V","t":91.5,"y":14.95},{"v":"A2T","t":-1.3,"y":1.36},{"v":"A2T","t":17.8,"y":2.5},{"v":"A2T","t":56.3,"y":4.24},{"v":"A2T","t":65.9,"y":7.05}],
"bars": [
{"v":"WT","r":1,"b":0,"p":81},{"v":"WT","r":1,"b":1,"p":85},{"v":"WT","r":1,"b":2,"p":100},{"v":"WT","r":1,"b":3,"p":21},{"v":"WT","r":1,"b":4,"p":21},{"v":"WT","r":1,"b":6,"p":9},
{"v":"WT","r":2,"b":0,"p":84},{"v":"WT","r":2,"b":1,"p":86},{"v":"WT","r":2,"b":2,"p":84},{"v":"WT","r":2,"b":11,"p":17},{"v":"WT","r":2,"b":12,"p":65},{"v":"WT","r":2,"b":13,"p":100},{"v":"WT","r":2,"b":14,"p":84},{"v":"WT","r":2,"b":15,"p":43},
{"v":"WT","r":3,"b":0,"p":61},{"v":"WT","r":3,"b":1,"p":69},{"v":"WT","r":3,"b":2,"p":61},{"v":"WT","r":3,"b":14,"p":39},{"v":"WT","r":3,"b":15,"p":87},{"v":"WT","r":3,"b":16,"p":100},{"v":"WT","r":3,"b":17,"p":87},{"v":"WT","r":3,"b":21,"p":69},{"v":"WT","r":3,"b":22,"p":75},{"v":"WT","r":3,"b":23,"p":89},{"v":"WT","r":3,"b":24,"p":79},{"v":"WT","r":3,"b":25,"p":67},{"v":"WT","r":3,"b":26,"p":45},
{"v":"WT","r":4,"b":0,"p":66},{"v":"WT","r":4,"b":1,"p":72},{"v":"WT","r":4,"b":2,"p":66},{"v":"WT","r":4,"b":14,"p":9},{"v":"WT","r":4,"b":15,"p":32},{"v":"WT","r":4,"b":16,"p":58},{"v":"WT","r":4,"b":17,"p":62},{"v":"WT","r":4,"b":18,"p":40},{"v":"WT","r":4,"b":19,"p":15},{"v":"WT","r":4,"b":26,"p":13},{"v":"WT","r":4,"b":27,"p":42},{"v":"WT","r":4,"b":28,"p":86},{"v":"WT","r":4,"b":29,"p":100},{"v":"WT","r":4,"b":30,"p":68},{"v":"WT","r":4,"b":31,"p":26},
{"v":"A2V","r":1,"b":0,"p":60},{"v":"A2V","r":1,"b":1,"p":64},{"v":"A2V","r":1,"b":2,"p":60},{"v":"A2V","r":1,"b":20,"p":40},{"v":"A2V","r":1,"b":21,"p":82},{"v":"A2V","r":1,"b":22,"p":100},{"v":"A2V","r":1,"b":23,"p":75},{"v":"A2V","r":1,"b":24,"p":30},
{"v":"A2V","r":2,"b":0,"p":15},{"v":"A2V","r":2,"b":1,"p":19},{"v":"A2V","r":2,"b":2,"p":15},{"v":"A2V","r":2,"b":22,"p":15},{"v":"A2V","r":2,"b":23,"p":47},{"v":"A2V","r":2,"b":24,"p":95},{"v":"A2V","r":2,"b":25,"p":100},{"v":"A2V","r":2,"b":26,"p":73},{"v":"A2V","r":2,"b":27,"p":19},
{"v":"A2V","r":3,"b":22,"p":21},{"v":"A2V","r":3,"b":23,"p":51},{"v":"A2V","r":3,"b":24,"p":100},{"v":"A2V","r":3,"b":25,"p":87},{"v":"A2V","r":3,"b":26,"p":59},
{"v":"A2V","r":4,"b":20,"p":7},{"v":"A2V","r":4,"b":21,"p":42},{"v":"A2V","r":4,"b":22,"p":74},{"v":"A2V","r":4,"b":23,"p":100},{"v":"A2V","r":4,"b":24,"p":58},{"v":"A2V","r":4,"b":25,"p":30},{"v":"A2V","r":4,"b":30,"p":52},{"v":"A2V","r":4,"b":31,"p":52},{"v":"A2V","r":4,"b":32,"p":52},
{"v":"A2T","r":1,"b":0,"p":93},{"v":"A2T","r":1,"b":1,"p":100},{"v":"A2T","r":1,"b":2,"p":93},{"v":"A2T","r":1,"b":24,"p":15},{"v":"A2T","r":1,"b":25,"p":19},{"v":"A2T","r":1,"b":26,"p":17},{"v":"A2T","r":1,"b":30,"p":19},{"v":"A2T","r":1,"b":31,"p":19},{"v":"A2T","r":1,"b":32,"p":19},
{"v":"A2T","r":2,"b":22,"p":27},{"v":"A2T","r":2,"b":23,"p":61},{"v":"A2T","r":2,"b":24,"p":89},{"v":"A2T","r":2,"b":25,"p":100},{"v":"A2T","r":2,"b":26,"p":77},{"v":"A2T","r":2,"b":27,"p":41},
{"v":"A2T","r":3,"b":21,"p":39},{"v":"A2T","r":3,"b":22,"p":71},{"v":"A2T","r":3,"b":23,"p":100},{"v":"A2T","r":3,"b":24,"p":65},{"v":"A2T","r":3,"b":25,"p":37},{"v":"A2T","r":3,"b":30,"p":29},{"v":"A2T","r":3,"b":31,"p":29},{"v":"A2T","r":3,"b":32,"p":29},
{"v":"A2T","r":4,"b":21,"p":21},{"v":"A2T","r":4,"b":22,"p":54},{"v":"A2T","r":4,"b":23,"p":98},{"v":"A2T","r":4,"b":24,"p":100},{"v":"A2T","r":4,"b":25,"p":76},{"v":"A2T","r":4,"b":26,"p":35},{"v":"A2T","r":4,"b":30,"p":38},{"v":"A2T","r":4,"b":31,"p":38},{"v":"A2T","r":4,"b":32,"p":38}
]
},
"resolve": {"scale": {"x": "independent", "y": "independent"}},
"layer": [
{"data": {"name": "wt"}, "mark": {"type": "circle", "size": 10, "color": "black", "opacity": 1},
 "encoding": {
  "x": {"field": "t", "type": "quantitative", "scale": {"domain": [0, 102.6], "range": [89, 396.8], "nice": false, "zero": false},
        "axis": {"orient": "bottom", "offset": -628, "values": [0,10,20,30,40,50,60,70,80,90,100], "labelExpr": "datum.value % 20 === 0 ? datum.label : ''", "tickSize": 5, "labelPadding": 3, "title": "t (h)", "titleFont": "Liberation Serif", "titleFontSize": 24, "titlePadding": 0}},
  "y": {"field": "y", "type": "quantitative", "scale": {"domain": [0, 15], "range": [355, 25], "nice": false, "zero": false},
        "axis": {"orient": "left", "offset": -89, "values": [0,2.5,5,7.5,10,12.5,15], "labelExpr": "datum.value % 5 === 0 ? datum.label : ''", "tickSize": 4, "labelPadding": 3, "title": "Intensity (a.u.)", "titleFont": "Liberation Serif", "titleFontSize": 26, "titlePadding": 25}}}},
{"data": {"name": "wtIn"}, "mark": {"type": "circle", "size": 6, "color": "black", "opacity": 1},
 "encoding": {
  "x": {"field": "t", "type": "quantitative", "scale": {"domain": [-1.2, 90.3], "range": [183.3, 396.7], "nice": false, "zero": false},
        "axis": {"orient": "bottom", "offset": -783, "values": [0,10,20,30,40,50,60,70,80,90], "labelExpr": "datum.value % 20 === 0 ? datum.label : ''", "tickSize": -4, "labelPadding": 3, "title": null}},
  "y": {"field": "y", "type": "quantitative", "scale": {"domain": [0, 0.466], "range": [200, 20], "nice": false, "zero": false},
        "axis": {"orient": "left", "offset": -183.3, "values": [0, 0.2, 0.4, 0.466], "labelExpr": "datum.value === 0 ? '0' : datum.value > 0.45 ? '0.5' : ''", "tickSize": -4, "labelPadding": 6, "labelFont": "Liberation Serif", "title": null}}}},
{"data": {"name": "fitWT"}, "mark": {"type": "line", "color": "#0000ff", "strokeWidth": 2.5, "interpolate": "monotone"},
 "encoding": {
  "x": {"field": "t", "type": "quantitative", "scale": {"domain": [-1.2, 90.3], "range": [183.3, 396.7], "nice": false, "zero": false}, "axis": null},
  "y": {"field": "y", "type": "quantitative", "scale": {"domain": [0, 0.466], "range": [200, 20], "nice": false, "zero": false}, "axis": null}}},
{"data": {"name": "tri"}, "transform": [{"filter": "datum.v === 'WT'"}],
 "mark": {"type": "point", "shape": "M-0.95,-1L0.95,-1L0,1Z", "size": 441, "filled": false, "stroke": "#3f6390", "strokeWidth": 3.4, "opacity": 1},
 "encoding": {
  "x": {"field": "t", "type": "quantitative", "scale": {"domain": [0, 102.6], "range": [89, 396.8], "nice": false, "zero": false}, "axis": null},
  "y": {"field": "y", "type": "quantitative", "scale": {"domain": [0, 15], "range": [355, 25], "nice": false, "zero": false}, "axis": null}}},
{"data": {"values": [{}]}, "mark": {"type": "text", "text": "WT", "font": "Liberation Serif", "fontWeight": "bold", "fontSize": 32, "color": "#1a73ba", "align": "center", "baseline": "alphabetic"},
 "encoding": {
  "x": {"datum": 48.8, "type": "quantitative", "scale": {"domain": [0, 102.6], "range": [89, 396.8], "nice": false, "zero": false}, "axis": null},
  "y": {"datum": 14.62, "type": "quantitative", "scale": {"domain": [0, 15], "range": [355, 25], "nice": false, "zero": false}, "axis": null}}},

{"data": {"name": "a2v"}, "mark": {"type": "circle", "size": 14, "color": "black", "opacity": 1},
 "encoding": {
  "x": {"field": "t", "type": "quantitative", "scale": {"domain": [0, 102], "range": [432.7, 738.7], "nice": false, "zero": false},
        "axis": {"orient": "bottom", "offset": -628, "values": [0,10,20,30,40,50,60,70,80,90,100], "labelExpr": "datum.value % 20 === 0 ? datum.label : ''", "tickSize": 5, "labelPadding": 3, "title": "t (h)", "titleFont": "Liberation Serif", "titleFontSize": 24, "titlePadding": 0}},
  "y": {"field": "y", "type": "quantitative", "scale": {"domain": [0, 15], "range": [355, 25], "nice": false, "zero": false},
        "axis": {"orient": "left", "offset": -432.7, "values": [0,2.5,5,7.5,10,12.5,15], "labelExpr": "datum.value % 5 === 0 ? datum.label : ''", "tickSize": 4, "labelPadding": 3, "title": null}}}},
{"data": {"name": "tri"}, "transform": [{"filter": "datum.v === 'A2V'"}],
 "mark": {"type": "point", "shape": "M-0.95,-1L0.95,-1L0,1Z", "size": 441, "filled": false, "stroke": "#c00000", "strokeWidth": 3.4, "opacity": 1},
 "encoding": {
  "x": {"field": "t", "type": "quantitative", "scale": {"domain": [0, 102], "range": [432.7, 738.7], "nice": false, "zero": false}, "axis": null},
  "y": {"field": "y", "type": "quantitative", "scale": {"domain": [0, 15], "range": [355, 25], "nice": false, "zero": false}, "axis": null}}},
{"data": {"values": [{}]}, "mark": {"type": "text", "text": "A2V", "font": "Liberation Serif", "fontWeight": "bold", "fontSize": 32, "color": "#ff0000", "align": "center", "baseline": "alphabetic"},
 "encoding": {
  "x": {"datum": 49.3, "type": "quantitative", "scale": {"domain": [0, 102], "range": [432.7, 738.7], "nice": false, "zero": false}, "axis": null},
  "y": {"datum": 14.62, "type": "quantitative", "scale": {"domain": [0, 15], "range": [355, 25], "nice": false, "zero": false}, "axis": null}}},

{"data": {"name": "a2t"}, "mark": {"type": "circle", "size": 15, "color": "black", "opacity": 1},
 "encoding": {
  "x": {"field": "t", "type": "quantitative", "scale": {"domain": [0, 102.3], "range": [788, 1094.9], "nice": false, "zero": false},
        "axis": {"orient": "bottom", "offset": -628, "values": [0,10,20,30,40,50,60,70,80,90,100], "labelExpr": "datum.value % 20 === 0 ? datum.label : ''", "tickSize": 5, "labelPadding": 3, "title": "t (h)", "titleFont": "Liberation Serif", "titleFontSize": 24, "titlePadding": 0}},
  "y": {"field": "y", "type": "quantitative", "scale": {"domain": [0, 15], "range": [355, 25], "nice": false, "zero": false},
        "axis": {"orient": "left", "offset": -788, "values": [0,2.5,5,7.5,10,12.5,15], "labelExpr": "datum.value % 5 === 0 ? datum.label : ''", "tickSize": 4, "labelPadding": 3, "title": null}}}},
{"data": {"name": "a2tIn"}, "mark": {"type": "circle", "size": 9, "color": "black", "opacity": 1},
 "encoding": {
  "x": {"field": "t", "type": "quantitative", "scale": {"domain": [-1.3, 89.6], "range": [875, 1086.7], "nice": false, "zero": false},
        "axis": {"orient": "bottom", "offset": -784.7, "values": [0,10,20,30,40,50,60,70,80], "labelExpr": "datum.value % 20 === 0 ? datum.label : ''", "tickSize": -4, "labelPadding": 3, "title": null}},
  "y": {"field": "y", "type": "quantitative", "scale": {"domain": [-0.02, 2], "range": [198.3, 20.7], "nice": false, "zero": false},
        "axis": {"orient": "left", "offset": -875, "values": [0, 0.5, 1, 1.5, 2], "labelExpr": "datum.value === 0 ? '0' : datum.value === 2 ? '2' : ''", "tickSize": -4, "labelPadding": 6, "labelFont": "Liberation Serif", "title": null}}}},
{"data": {"name": "fitA2T"}, "mark": {"type": "line", "color": "#22e022", "strokeWidth": 2.5, "interpolate": "monotone"},
 "encoding": {
  "x": {"field": "t", "type": "quantitative", "scale": {"domain": [-1.3, 89.6], "range": [875, 1086.7], "nice": false, "zero": false}, "axis": null},
  "y": {"field": "y", "type": "quantitative", "scale": {"domain": [-0.02, 2], "range": [198.3, 20.7], "nice": false, "zero": false}, "axis": null}}},
{"data": {"name": "tri"}, "transform": [{"filter": "datum.v === 'A2T'"}],
 "mark": {"type": "point", "shape": "M-0.95,-1L0.95,-1L0,1Z", "size": 441, "filled": false, "stroke": "#9bbb59", "strokeWidth": 3.4, "opacity": 1},
 "encoding": {
  "x": {"field": "t", "type": "quantitative", "scale": {"domain": [0, 102.3], "range": [788, 1094.9], "nice": false, "zero": false}, "axis": null},
  "y": {"field": "y", "type": "quantitative", "scale": {"domain": [0, 15], "range": [355, 25], "nice": false, "zero": false}, "axis": null}}},
{"data": {"values": [{}]}, "mark": {"type": "text", "text": "A2T", "font": "Liberation Serif", "fontWeight": "bold", "fontSize": 32, "color": "#92d050", "align": "center", "baseline": "alphabetic"},
 "encoding": {
  "x": {"datum": 46.1, "type": "quantitative", "scale": {"domain": [0, 102.3], "range": [788, 1094.9], "nice": false, "zero": false}, "axis": null},
  "y": {"datum": 14.62, "type": "quantitative", "scale": {"domain": [0, 15], "range": [355, 25], "nice": false, "zero": false}, "axis": null}}},

{"data": {"name": "bars"}, "transform": [{"filter": "datum.v === 'WT' && datum.r === 1"}], "mark": {"type": "bar", "size": 3.2, "color": "#4f81bd"},
 "encoding": {
  "x": {"field": "b", "type": "quantitative", "scale": {"domain": [-0.5, 32.5], "range": [93.3, 399.6], "nice": false, "zero": false},
        "axis": {"orient": "bottom", "offset": -452, "values": [-0.5,1.5,3.5,5.5,7.5,9.5,11.5,13.5,15.5,17.5,19.5,21.5,23.5,25.5,27.5,29.5,31.5], "labels": false, "tickSize": 6, "domainColor": "#878787", "tickColor": "#878787", "domainWidth": 2, "tickWidth": 2, "title": null}},
  "y": {"field": "p", "type": "quantitative", "scale": {"domain": [0, 100], "range": [531, 432], "nice": false},
        "axis": {"orient": "left", "offset": -93.3, "values": [0,25,50,75,100], "labelExpr": "datum.value === 0 || datum.value === 100 ? datum.label : ''", "tickSize": 5, "labelPadding": 1, "labelFontSize": 14, "domainColor": "#878787", "tickColor": "#878787", "domainWidth": 2, "tickWidth": 2, "title": null}}}},
{"data": {"name": "bars"}, "transform": [{"filter": "datum.v === 'WT' && datum.r === 2"}], "mark": {"type": "bar", "size": 3.2, "color": "#4f81bd"},
 "encoding": {
  "x": {"field": "b", "type": "quantitative", "scale": {"domain": [-0.5, 32.5], "range": [93.3, 399.6], "nice": false, "zero": false},
        "axis": {"orient": "bottom", "offset": -326, "values": [-0.5,1.5,3.5,5.5,7.5,9.5,11.5,13.5,15.5,17.5,19.5,21.5,23.5,25.5,27.5,29.5,31.5], "labels": false, "tickSize": 6, "domainColor": "#878787", "tickColor": "#878787", "domainWidth": 2, "tickWidth": 2, "title": null}},
  "y": {"field": "p", "type": "quantitative", "scale": {"domain": [0, 100], "range": [657, 557], "nice": false},
        "axis": {"orient": "left", "offset": -93.3, "values": [0,25,50,75,100], "labelExpr": "datum.value === 0 || datum.value === 100 ? datum.label : ''", "tickSize": 5, "labelPadding": 1, "labelFontSize": 14, "domainColor": "#878787", "tickColor": "#878787", "domainWidth": 2, "tickWidth": 2, "title": "Intensity distribution", "titleFont": "Liberation Serif", "titleFontSize": 26, "titleX": -59, "titleY": 670}}}},
{"data": {"name": "bars"}, "transform": [{"filter": "datum.v === 'WT' && datum.r === 3"}], "mark": {"type": "bar", "size": 3.2, "color": "#4f81bd"},
 "encoding": {
  "x": {"field": "b", "type": "quantitative", "scale": {"domain": [-0.5, 32.5], "range": [93.3, 399.6], "nice": false, "zero": false},
        "axis": {"orient": "bottom", "offset": -200, "values": [-0.5,1.5,3.5,5.5,7.5,9.5,11.5,13.5,15.5,17.5,19.5,21.5,23.5,25.5,27.5,29.5,31.5], "labels": false, "tickSize": 6, "domainColor": "#878787", "tickColor": "#878787", "domainWidth": 2, "tickWidth": 2, "title": null}},
  "y": {"field": "p", "type": "quantitative", "scale": {"domain": [0, 100], "range": [783, 683], "nice": false},
        "axis": {"orient": "left", "offset": -93.3, "values": [0,25,50,75,100], "labelExpr": "datum.value === 0 || datum.value === 100 ? datum.label : ''", "tickSize": 5, "labelPadding": 1, "labelFontSize": 14, "domainColor": "#878787", "tickColor": "#878787", "domainWidth": 2, "tickWidth": 2, "title": null}}}},
{"data": {"name": "bars"}, "transform": [{"filter": "datum.v === 'WT' && datum.r === 4"}], "mark": {"type": "bar", "size": 3.2, "color": "#4f81bd"},
 "encoding": {
  "x": {"field": "b", "type": "quantitative", "scale": {"domain": [-0.5, 32.5], "range": [93.3, 399.6], "nice": false, "zero": false},
        "axis": {"orient": "bottom", "offset": -75, "values": [-0.5,1.5,3.5,5.5,7.5,9.5,11.5,13.5,15.5,17.5,19.5,21.5,23.5,25.5,27.5,29.5,31.5], "labelExpr": "datum.value === -0.5 ? '1' : datum.value === 3.5 ? '3' : datum.value === 5.5 ? '5' : datum.value === 9.5 ? '14' : datum.value === 13.5 ? '40' : datum.value === 17.5 ? '120' : datum.value === 21.5 ? '350' : datum.value === 25.5 ? '1000' : datum.value === 31.5 ? '3000' : ''", "labelFontSize": 14, "labelPadding": 13, "tickSize": 6, "domainColor": "#878787", "tickColor": "#878787", "domainWidth": 2, "tickWidth": 2, "title": "size (nm)", "titleFont": "Liberation Serif", "titleFontSize": 24, "titlePadding": 15}},
  "y": {"field": "p", "type": "quantitative", "scale": {"domain": [0, 100], "range": [908, 808], "nice": false},
        "axis": {"orient": "left", "offset": -93.3, "values": [0,25,50,75,100], "labelExpr": "datum.value === 0 || datum.value === 100 ? datum.label : ''", "tickSize": 5, "labelPadding": 1, "labelFontSize": 14, "domainColor": "#878787", "tickColor": "#878787", "domainWidth": 2, "tickWidth": 2, "title": null}}}},

{"data": {"name": "bars"}, "transform": [{"filter": "datum.v === 'A2V' && datum.r === 1"}], "mark": {"type": "bar", "size": 3.2, "color": "#c0504d"},
 "encoding": {
  "x": {"field": "b", "type": "quantitative", "scale": {"domain": [-0.5, 32.5], "range": [431.7, 738.6], "nice": false, "zero": false},
        "axis": {"orient": "bottom", "offset": -452, "values": [-0.5,1.5,3.5,5.5,7.5,9.5,11.5,13.5,15.5,17.5,19.5,21.5,23.5,25.5,27.5,29.5,31.5], "labels": false, "tickSize": 6, "domainColor": "#878787", "tickColor": "#878787", "domainWidth": 2, "tickWidth": 2, "title": null}},
  "y": {"field": "p", "type": "quantitative", "scale": {"domain": [0, 100], "range": [531, 432], "nice": false},
        "axis": {"orient": "left", "offset": -431.7, "values": [0,25,50,75,100], "labelExpr": "datum.value === 0 || datum.value === 100 ? datum.label : ''", "tickSize": 5, "labelPadding": 1, "labelFontSize": 14, "domainColor": "#878787", "tickColor": "#878787", "domainWidth": 2, "tickWidth": 2, "title": null}}}},
{"data": {"name": "bars"}, "transform": [{"filter": "datum.v === 'A2V' && datum.r === 2"}], "mark": {"type": "bar", "size": 3.2, "color": "#c0504d"},
 "encoding": {
  "x": {"field": "b", "type": "quantitative", "scale": {"domain": [-0.5, 32.5], "range": [431.7, 738.6], "nice": false, "zero": false},
        "axis": {"orient": "bottom", "offset": -326, "values": [-0.5,1.5,3.5,5.5,7.5,9.5,11.5,13.5,15.5,17.5,19.5,21.5,23.5,25.5,27.5,29.5,31.5], "labels": false, "tickSize": 6, "domainColor": "#878787", "tickColor": "#878787", "domainWidth": 2, "tickWidth": 2, "title": null}},
  "y": {"field": "p", "type": "quantitative", "scale": {"domain": [0, 100], "range": [657, 557], "nice": false},
        "axis": {"orient": "left", "offset": -431.7, "values": [0,25,50,75,100], "labelExpr": "datum.value === 0 || datum.value === 100 ? datum.label : ''", "tickSize": 5, "labelPadding": 1, "labelFontSize": 14, "domainColor": "#878787", "tickColor": "#878787", "domainWidth": 2, "tickWidth": 2, "title": null}}}},
{"data": {"name": "bars"}, "transform": [{"filter": "datum.v === 'A2V' && datum.r === 3"}], "mark": {"type": "bar", "size": 3.2, "color": "#c0504d"},
 "encoding": {
  "x": {"field": "b", "type": "quantitative", "scale": {"domain": [-0.5, 32.5], "range": [431.7, 738.6], "nice": false, "zero": false},
        "axis": {"orient": "bottom", "offset": -200, "values": [-0.5,1.5,3.5,5.5,7.5,9.5,11.5,13.5,15.5,17.5,19.5,21.5,23.5,25.5,27.5,29.5,31.5], "labels": false, "tickSize": 6, "domainColor": "#878787", "tickColor": "#878787", "domainWidth": 2, "tickWidth": 2, "title": null}},
  "y": {"field": "p", "type": "quantitative", "scale": {"domain": [0, 100], "range": [783, 683], "nice": false},
        "axis": {"orient": "left", "offset": -431.7, "values": [0,25,50,75,100], "labelExpr": "datum.value === 0 || datum.value === 100 ? datum.label : ''", "tickSize": 5, "labelPadding": 1, "labelFontSize": 14, "domainColor": "#878787", "tickColor": "#878787", "domainWidth": 2, "tickWidth": 2, "title": null}}}},
{"data": {"name": "bars"}, "transform": [{"filter": "datum.v === 'A2V' && datum.r === 4"}], "mark": {"type": "bar", "size": 3.2, "color": "#c0504d"},
 "encoding": {
  "x": {"field": "b", "type": "quantitative", "scale": {"domain": [-0.5, 32.5], "range": [431.7, 738.6], "nice": false, "zero": false},
        "axis": {"orient": "bottom", "offset": -75, "values": [-0.5,1.5,3.5,5.5,7.5,9.5,11.5,13.5,15.5,17.5,19.5,21.5,23.5,25.5,27.5,29.5,31.5], "labelExpr": "datum.value === -0.5 ? '1' : datum.value === 3.5 ? '3' : datum.value === 5.5 ? '5' : datum.value === 9.5 ? '14' : datum.value === 13.5 ? '40' : datum.value === 17.5 ? '120' : datum.value === 21.5 ? '350' : datum.value === 25.5 ? '1000' : datum.value === 31.5 ? '3000' : ''", "labelFontSize": 14, "labelPadding": 13, "tickSize": 6, "domainColor": "#878787", "tickColor": "#878787", "domainWidth": 2, "tickWidth": 2, "title": "size (nm)", "titleFont": "Liberation Serif", "titleFontSize": 24, "titlePadding": 15}},
  "y": {"field": "p", "type": "quantitative", "scale": {"domain": [0, 100], "range": [908, 808], "nice": false},
        "axis": {"orient": "left", "offset": -431.7, "values": [0,25,50,75,100], "labelExpr": "datum.value === 0 || datum.value === 100 ? datum.label : ''", "tickSize": 5, "labelPadding": 1, "labelFontSize": 14, "domainColor": "#878787", "tickColor": "#878787", "domainWidth": 2, "tickWidth": 2, "title": null}}}},

{"data": {"name": "bars"}, "transform": [{"filter": "datum.v === 'A2T' && datum.r === 1"}], "mark": {"type": "bar", "size": 3.2, "color": "#c4df3a"},
 "encoding": {
  "x": {"field": "b", "type": "quantitative", "scale": {"domain": [-0.5, 32.5], "range": [784.3, 1090.9], "nice": false, "zero": false},
        "axis": {"orient": "bottom", "offset": -452, "values": [-0.5,1.5,3.5,5.5,7.5,9.5,11.5,13.5,15.5,17.5,19.5,21.5,23.5,25.5,27.5,29.5,31.5], "labels": false, "tickSize": 6, "domainColor": "#878787", "tickColor": "#878787", "domainWidth": 2, "tickWidth": 2, "title": null}},
  "y": {"field": "p", "type": "quantitative", "scale": {"domain": [0, 100], "range": [531, 432], "nice": false},
        "axis": {"orient": "left", "offset": -784.3, "values": [0,25,50,75,100], "labelExpr": "datum.value === 0 || datum.value === 100 ? datum.label : ''", "tickSize": 5, "labelPadding": 1, "labelFontSize": 14, "domainColor": "#878787", "tickColor": "#878787", "domainWidth": 2, "tickWidth": 2, "title": null}}}},
{"data": {"name": "bars"}, "transform": [{"filter": "datum.v === 'A2T' && datum.r === 2"}], "mark": {"type": "bar", "size": 3.2, "color": "#c4df3a"},
 "encoding": {
  "x": {"field": "b", "type": "quantitative", "scale": {"domain": [-0.5, 32.5], "range": [784.3, 1090.9], "nice": false, "zero": false},
        "axis": {"orient": "bottom", "offset": -326, "values": [-0.5,1.5,3.5,5.5,7.5,9.5,11.5,13.5,15.5,17.5,19.5,21.5,23.5,25.5,27.5,29.5,31.5], "labels": false, "tickSize": 6, "domainColor": "#878787", "tickColor": "#878787", "domainWidth": 2, "tickWidth": 2, "title": null}},
  "y": {"field": "p", "type": "quantitative", "scale": {"domain": [0, 100], "range": [657, 557], "nice": false},
        "axis": {"orient": "left", "offset": -784.3, "values": [0,25,50,75,100], "labelExpr": "datum.value === 0 || datum.value === 100 ? datum.label : ''", "tickSize": 5, "labelPadding": 1, "labelFontSize": 14, "domainColor": "#878787", "tickColor": "#878787", "domainWidth": 2, "tickWidth": 2, "title": null}}}},
{"data": {"name": "bars"}, "transform": [{"filter": "datum.v === 'A2T' && datum.r === 3"}], "mark": {"type": "bar", "size": 3.2, "color": "#c4df3a"},
 "encoding": {
  "x": {"field": "b", "type": "quantitative", "scale": {"domain": [-0.5, 32.5], "range": [784.3, 1090.9], "nice": false, "zero": false},
        "axis": {"orient": "bottom", "offset": -200, "values": [-0.5,1.5,3.5,5.5,7.5,9.5,11.5,13.5,15.5,17.5,19.5,21.5,23.5,25.5,27.5,29.5,31.5], "labels": false, "tickSize": 6, "domainColor": "#878787", "tickColor": "#878787", "domainWidth": 2, "tickWidth": 2, "title": null}},
  "y": {"field": "p", "type": "quantitative", "scale": {"domain": [0, 100], "range": [783, 683], "nice": false},
        "axis": {"orient": "left", "offset": -784.3, "values": [0,25,50,75,100], "labelExpr": "datum.value === 0 || datum.value === 100 ? datum.label : ''", "tickSize": 5, "labelPadding": 1, "labelFontSize": 14, "domainColor": "#878787", "tickColor": "#878787", "domainWidth": 2, "tickWidth": 2, "title": null}}}},
{"data": {"name": "bars"}, "transform": [{"filter": "datum.v === 'A2T' && datum.r === 4"}], "mark": {"type": "bar", "size": 3.2, "color": "#c4df3a"},
 "encoding": {
  "x": {"field": "b", "type": "quantitative", "scale": {"domain": [-0.5, 32.5], "range": [784.3, 1090.9], "nice": false, "zero": false},
        "axis": {"orient": "bottom", "offset": -75, "values": [-0.5,1.5,3.5,5.5,7.5,9.5,11.5,13.5,15.5,17.5,19.5,21.5,23.5,25.5,27.5,29.5,31.5], "labelExpr": "datum.value === -0.5 ? '1' : datum.value === 3.5 ? '3' : datum.value === 5.5 ? '5' : datum.value === 9.5 ? '14' : datum.value === 13.5 ? '40' : datum.value === 17.5 ? '120' : datum.value === 21.5 ? '350' : datum.value === 25.5 ? '1000' : datum.value === 31.5 ? '3000' : ''", "labelFontSize": 14, "labelPadding": 13, "tickSize": 6, "domainColor": "#878787", "tickColor": "#878787", "domainWidth": 2, "tickWidth": 2, "title": "size (nm)", "titleFont": "Liberation Serif", "titleFontSize": 24, "titlePadding": 15}},
  "y": {"field": "p", "type": "quantitative", "scale": {"domain": [0, 100], "range": [908, 808], "nice": false},
        "axis": {"orient": "left", "offset": -784.3, "values": [0,25,50,75,100], "labelExpr": "datum.value === 0 || datum.value === 100 ? datum.label : ''", "tickSize": 5, "labelPadding": 1, "labelFontSize": 14, "domainColor": "#878787", "tickColor": "#878787", "domainWidth": 2, "tickWidth": 2, "title": null}}}}
]
}
